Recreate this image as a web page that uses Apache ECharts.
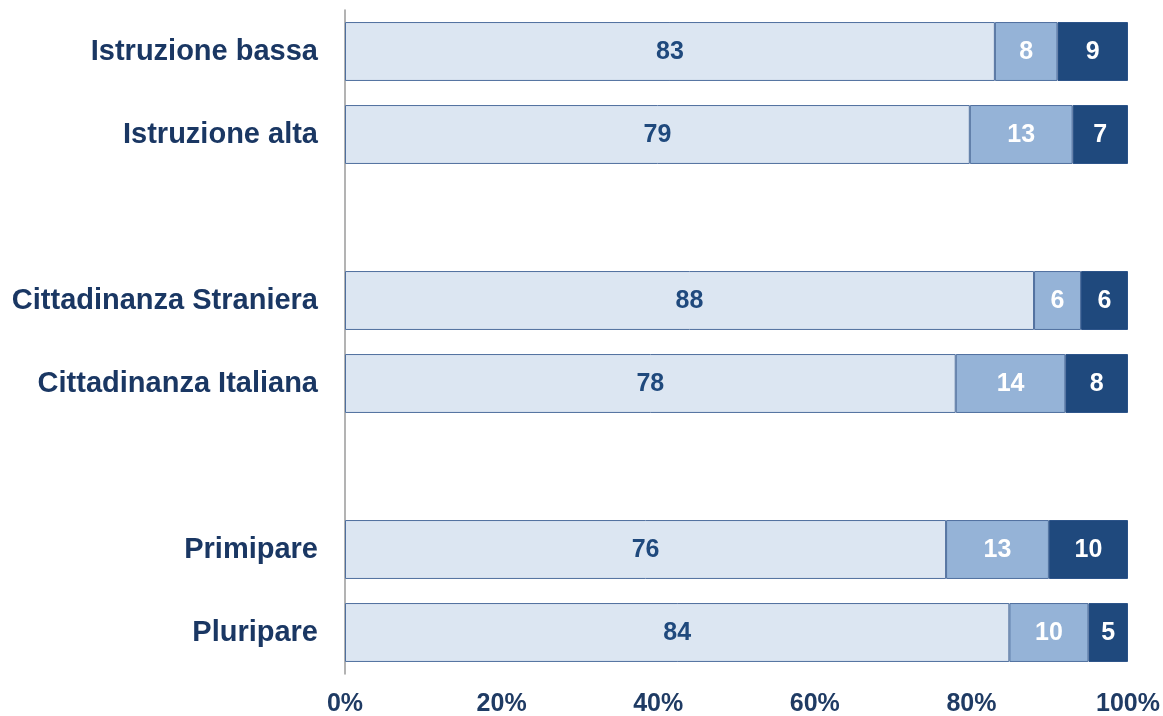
<!DOCTYPE html>
<html>
<head>
<meta charset="utf-8">
<script src="https://cdn.jsdelivr.net/npm/echarts@6/dist/echarts.min.js"></script>
<style>
  html, body { margin: 0; padding: 0; background: #ffffff; }
  #chart { width: 1163px; height: 716px; }
</style>
</head>
<body>
<div id="chart"></div>
<script>
// Row labels, top to bottom; empty strings are spacer rows between groups
const categories = ['Istruzione bassa', 'Istruzione alta', '', 'Cittadinanza Straniera', 'Cittadinanza Italiana', '', 'Primipare', 'Pluripare'];

// Values per segment (percent, as labelled); null on spacer rows
const seriesA = [83, 79, null, 88, 78, null, 76, 84];
const seriesB = [8, 13, null, 6, 14, null, 13, 10];
const seriesC = [9, 7, null, 6, 8, null, 10, 5];

const xTickLabels = ['0%', '20%', '40%', '60%', '80%', '100%'];

// 100% stacked: each row is scaled by its own total
const rowTotals = categories.map((_, i) =>
  (seriesA[i] || 0) + (seriesB[i] || 0) + (seriesC[i] || 0));
const share = arr => arr.map((v, i) => v == null ? null : v / rowTotals[i] * 100);

const fontFamily = '"Liberation Sans", Arial, sans-serif';
const borderColor = '#4f6f9e';

function makeSeries(raw, fill, textColor, edge) {
  return {
    type: 'bar',
    stack: 'total',
    barCategoryGap: '29%',
    data: share(raw),
    itemStyle: { color: fill, borderColor: edge, borderWidth: 1 },
    label: {
      show: true,
      position: 'inside',
      offset: [0, 1],
      color: textColor,
      fontFamily: fontFamily,
      fontWeight: 'bold',
      fontSize: 25,
      formatter: p => raw[p.dataIndex] == null ? '' : String(raw[p.dataIndex])
    },
    emphasis: { disabled: true }
  };
}

const chart = echarts.init(document.getElementById('chart'), null, { renderer: 'canvas' });
chart.setOption({
  animation: false,
  backgroundColor: '#ffffff',
  grid: {
    left: 345, right: 35, top: 10, bottom: 42,
    containLabel: false,
    outerBoundsMode: 'none'
  },
  xAxis: {
    type: 'value',
    min: 0,
    max: 100,
    interval: 20,
    axisLine: { show: false },
    axisTick: { show: false },
    splitLine: { show: false },
    axisLabel: {
      color: '#1f3b64',
      fontFamily: fontFamily,
      fontWeight: 'bold',
      fontSize: 25,
      margin: 18,
      formatter: v => xTickLabels[Math.round(v / 20)]
    }
  },
  yAxis: {
    type: 'category',
    inverse: true,
    data: categories,
    axisLine: { show: true, lineStyle: { color: '#9a9a9a', width: 1.5 } },
    axisTick: { show: false },
    axisLabel: {
      color: '#1a3763',
      fontFamily: fontFamily,
      fontWeight: 'bold',
      fontSize: 29,
      margin: 27
    }
  },
  series: [
    makeSeries(seriesA, '#dce6f2', '#1f497d', borderColor),
    makeSeries(seriesB, '#95b3d7', '#ffffff', borderColor),
    makeSeries(seriesC, '#1f497d', '#ffffff', '#2a5288')
  ]
});
</script>
</body>
</html>
